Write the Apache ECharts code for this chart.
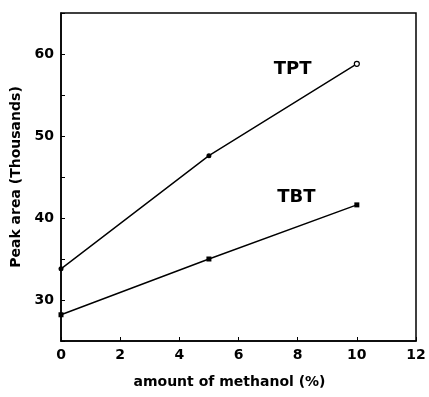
<!DOCTYPE html>
<html><head><meta charset="utf-8">
<script src="https://cdn.jsdelivr.net/npm/echarts@6/dist/echarts.min.js"></script>
<style>html,body{margin:0;padding:0;background:#fff}#c{width:429px;height:397px}</style>
</head><body><div id="c"></div>
<script>
const methanol = [0, 5, 10];
const tpt = [33.8, 47.6, 58.8];
const tbt = [28.2, 35.0, 41.6];
const xTicks = [0, 2, 4, 6, 8, 10, 12];
const yTicks = [30, 40, 50, 60];

const chart = echarts.init(document.getElementById('c'), null, {renderer: 'canvas'});
const font = 'DejaVu Sans, Liberation Sans, Arial, sans-serif';
chart.setOption({
  animation: false,
  backgroundColor: '#fff',
  grid: {left: 61, right: 13, top: 13, bottom: 56, show: true, borderColor: '#000', borderWidth: 1.5},
  xAxis: {
    type: 'value', min: 0, max: 12, interval: 2,
    axisLine: {lineStyle: {color: '#000', width: 1.5}},
    axisTick: {inside: true, length: 4, lineStyle: {color: '#000'}},
    splitLine: {show: false},
    axisLabel: {color: '#000', fontFamily: font, fontWeight: 'bold', fontSize: 14, margin: 7,
      formatter: v => xTicks.includes(v) ? String(v) : ''},
    name: 'amount of methanol (%)', nameLocation: 'middle', nameGap: 34,
    nameTextStyle: {color: '#000', fontFamily: font, fontWeight: 'bold', fontSize: 14, padding: [0, 18, 0, 0]}
  },
  yAxis: {
    type: 'value', min: 25, max: 65, interval: 5,
    axisLine: {lineStyle: {color: '#000', width: 1.5}},
    axisTick: {inside: true, length: 4, lineStyle: {color: '#000'}},
    splitLine: {show: false},
    axisLabel: {color: '#000', fontFamily: font, fontWeight: 'bold', fontSize: 14, margin: 7,
      formatter: v => yTicks.includes(v) ? String(v) : ''},
    name: 'Peak area (Thousands)', nameLocation: 'middle', nameGap: 31,
    nameTextStyle: {color: '#000', fontFamily: font, fontWeight: 'bold', fontSize: 14}
  },
  series: [
    {type: 'line', data: methanol.map((x, i) => i === methanol.length - 1
        ? {value: [x, tpt[i]], itemStyle: {color: '#fff', borderColor: '#000', borderWidth: 1.2}}
        : [x, tpt[i]]),
      lineStyle: {color: '#000', width: 1.4}, symbol: 'circle', symbolSize: 5,
      itemStyle: {color: '#000'},
      label: {show: true, formatter: p => p.dataIndex === 2 ? 'TPT' : '', position: [-80, 0],
        color: '#000', fontFamily: font, fontWeight: 'bold', fontSize: 18}},
    {type: 'line', data: methanol.map((x, i) => [x, tbt[i]]),
      lineStyle: {color: '#000', width: 1.4}, symbol: 'rect', symbolSize: 5,
      itemStyle: {color: '#000'},
      label: {show: true, formatter: p => p.dataIndex === 2 ? 'TBT' : '', position: [-77, -14],
        color: '#000', fontFamily: font, fontWeight: 'bold', fontSize: 18}}
  ]
});
</script></body></html>
